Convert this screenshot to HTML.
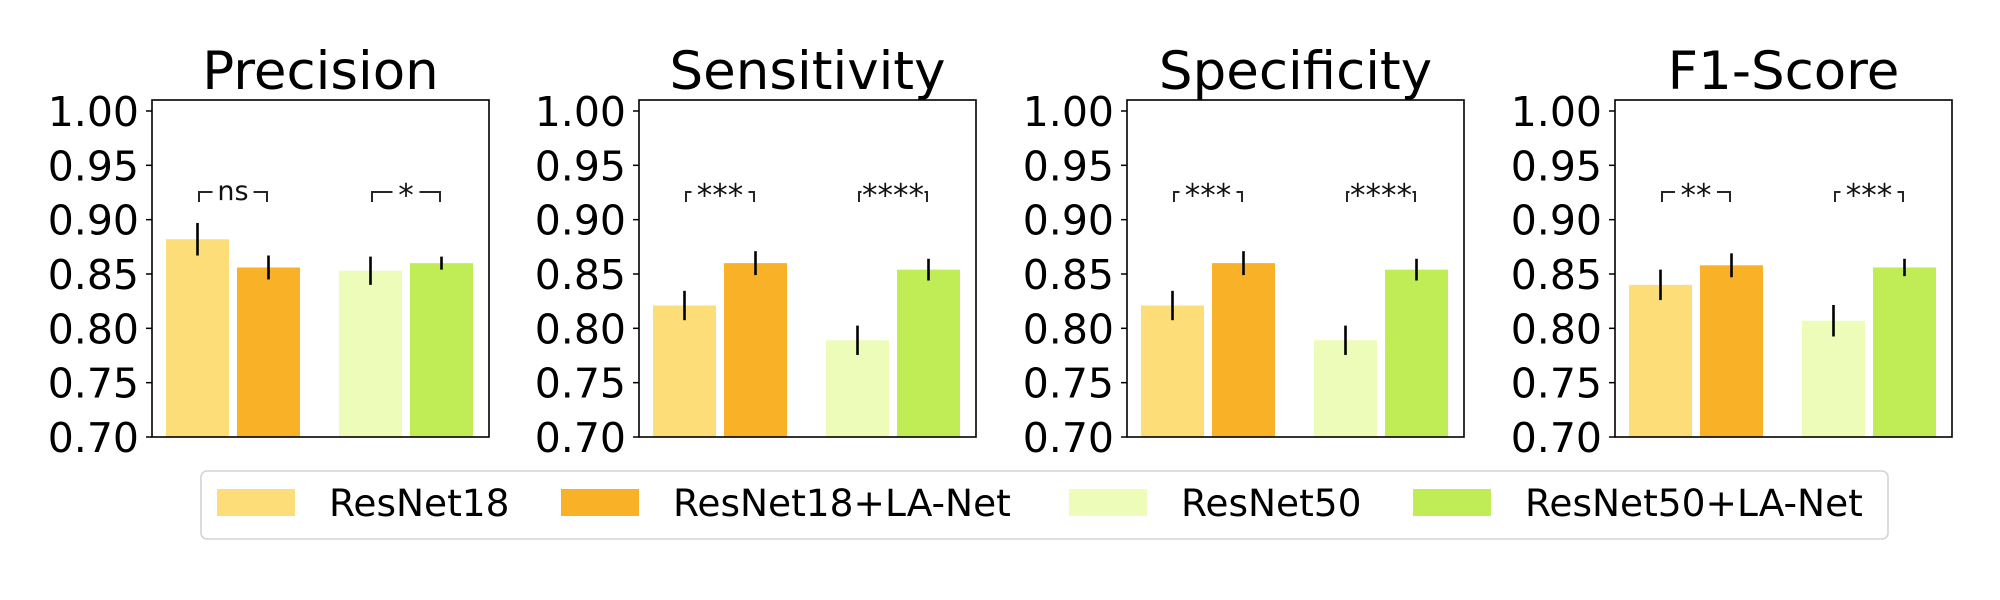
<!DOCTYPE html>
<html><head><meta charset="utf-8"><style>
html,body{margin:0;padding:0;background:#fff;}
svg{display:block;font-family:"DejaVu Sans","Liberation Sans",sans-serif;}
</style></head><body>
<svg id="chart" width="2000" height="600" viewBox="0 0 2000 600" xmlns="http://www.w3.org/2000/svg"></svg>
<script>
const panelTitles = ["Precision","Sensitivity","Specificity","F1-Score"];
const seriesNames = ["ResNet18","ResNet18+LA-Net","ResNet50","ResNet50+LA-Net"];
const seriesColors = ["#FDDD78","#F9B128","#EEFCBA","#C0EC55"];
const resnet18 = [0.882,0.821,0.821,0.840];
const resnet18la = [0.856,0.860,0.860,0.858];
const resnet50 = [0.853,0.789,0.789,0.807];
const resnet50la = [0.860,0.854,0.854,0.856];
const err18 = [0.015,0.0135,0.0135,0.014];
const err18la = [0.011,0.011,0.011,0.011];
const err50 = [0.013,0.0135,0.0135,0.0145];
const err50la = [0.006,0.010,0.010,0.008];
const sig18 = ["ns","***","***","**"];
const sig50 = ["*","****","****","***"];
const yTicks = [0.70,0.75,0.80,0.85,0.90,0.95,1.00];
const yTickLabels = ["0.70","0.75","0.80","0.85","0.90","0.95","1.00"];

const NS="http://www.w3.org/2000/svg";
const svg=document.getElementById('chart');
function mk(tag,attrs,parent){const e=document.createElementNS(NS,tag);for(const k in attrs)e.setAttribute(k,attrs[k]);(parent||svg).appendChild(e);return e;}
const panelLeft=[152,639,1127,1615], PW=337, TOP=100, BOT=437;
const Y0=0.70, PXU=1086.7;
function y(v){return BOT-(v-Y0)*PXU;}
const barOff=[14,85,187,258], BW=63;
const values=[resnet18,resnet18la,resnet50,resnet50la];
const errs=[err18,err18la,err50,err50la];

panelTitles.forEach((t,p)=>{
  const L=panelLeft[p];
  const g=mk('g',{});
  
  
  const title=mk('text',{x:L+PW/2,y:89,'font-size':53,'text-anchor':'middle',fill:'#000'},g);
  title.textContent=t;
  
  
  yTicks.forEach((v,i)=>{
    const tk=mk('line',{x1:L-6,x2:L,y1:y(v),y2:y(v),stroke:'#000','stroke-width':1.5},g);
    
    
    const tl=mk('text',{x:L-13,y:y(v)+15,'font-size':41,'text-anchor':'end',fill:'#000'},g);
    tl.textContent=yTickLabels[i];
    
    
  });
  values.forEach((arr,s)=>{
    const v=arr[p], e=errs[s][p], x=L+barOff[s];
    const r=mk('rect',{x:x,y:y(v),width:BW,height:BOT-y(v),fill:seriesColors[s]},g);
    
    
    const el=mk('line',{x1:x+BW/2,x2:x+BW/2,y1:y(v+e),y2:y(v-e),stroke:'#000','stroke-width':2.6},g);
    
    
  });
  [[0,1,sig18[p]],[2,3,sig50[p]]].forEach(([a,b,txt])=>{
    const x1=L+barOff[a]+BW/2+1.5, x2=L+barOff[b]+BW/2-1.5, cx=(x1+x2)/2;
    const br=mk('path',{d:`M${x1},202 V192 H${x2} V202`,fill:'none',stroke:'#262626','stroke-width':2},g);
    
    
    const tw=txt==='ns'?29:txt.length*15;
    const bw=Math.min(tw+12,x2-x1-5);
    mk('rect',{x:cx-bw/2,y:170,width:bw,height:30,fill:'#fff'},g);
    const st=mk('text',{x:cx,y:txt==='ns'?200:206,'font-size':txt==='ns'?27:31,'text-anchor':'middle',fill:'#111'},g);
    st.textContent=txt;
    
    
  });
  const fr=mk('rect',{x:L,y:TOP,width:PW,height:BOT-TOP,fill:'none',stroke:'#000','stroke-width':1.6},g);
  
  
});

const lg=mk('g',{});


mk('rect',{x:201,y:471,width:1687,height:68,rx:6,fill:'#fff',stroke:'#d4d4d4','stroke-width':1.6},lg);
const patchX=[217,561,1069,1413];
seriesNames.forEach((n,i)=>{
  const e=mk('g',{},lg);
  
  
  mk('rect',{x:patchX[i],y:489,width:78,height:27,fill:seriesColors[i]},e);
  const t=mk('text',{x:patchX[i]+112,y:516,'font-size':37.5,fill:'#000'},e);
  t.textContent=n;
});
</script>
</body></html>
